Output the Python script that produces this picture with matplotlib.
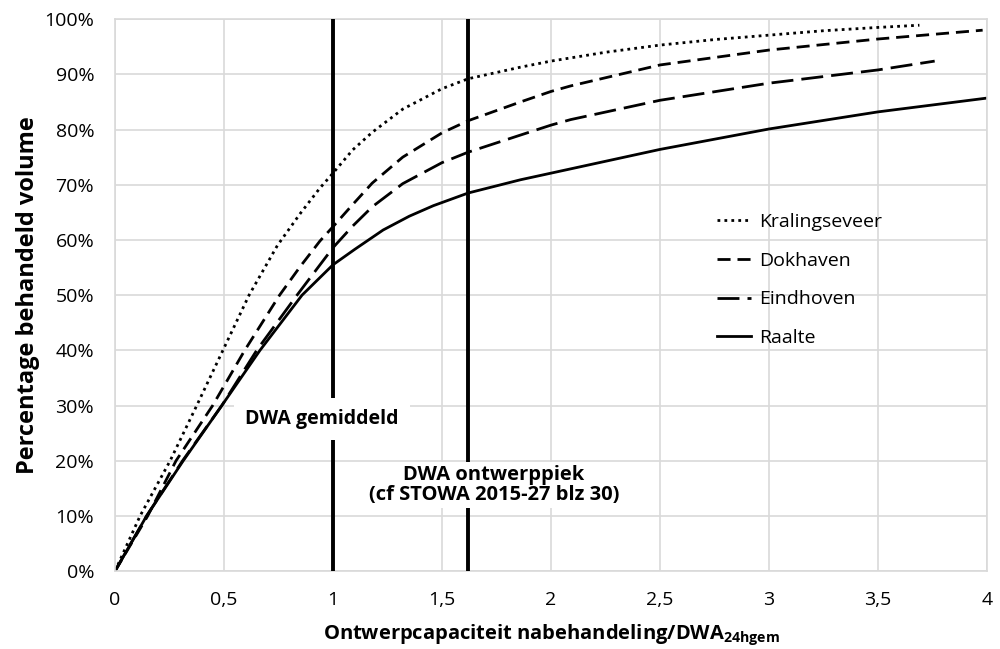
import numpy as np
import matplotlib
matplotlib.use("Agg")
from matplotlib import pyplot as plt
from matplotlib.ticker import FuncFormatter, MultipleLocator

# font setup
plt.rcParams['font.family'] = ['Open Sans', 'DejaVu Sans']
plt.rcParams['mathtext.fontset'] = 'custom'
plt.rcParams['mathtext.rm'] = 'Open Sans'
plt.rcParams['mathtext.bf'] = 'Open Sans:bold'

# data (x = capacity / DWA, y = % treated)
kral_x = [0, 0.115, 0.253, 0.375, 0.495, 0.615, 0.745, 0.85, 0.94, 1.0, 1.09, 1.18, 1.32,
          1.5, 1.62, 1.86, 2.0, 2.25, 2.5, 2.75, 3.0, 3.25, 3.5, 3.69]
kral_y = [0, 10, 20, 30, 40, 50, 59, 64.8, 69.4, 72.1, 76.3, 79.5, 83.7,
          87.4, 89.2, 91.3, 92.4, 94.0, 95.3, 96.3, 97.1, 97.9, 98.5, 98.9]

dok_x = [0, 0.15, 0.28, 0.448, 0.595, 0.755, 0.85, 0.94, 1.0, 1.09, 1.18, 1.32,
         1.5, 1.62, 1.86, 2.0, 2.09, 2.5, 3.0, 3.5, 3.98]
dok_y = [0, 10, 20, 30, 40, 50, 55.2, 59.8, 62.4, 66.4, 70.3, 75.0,
         79.4, 81.6, 85, 86.9, 87.9, 91.7, 94.4, 96.4, 98.0]

eind_x = [0, 0.145, 0.31, 0.49, 0.65, 0.835, 1.0, 1.09, 1.18, 1.32,
          1.5, 1.62, 1.86, 2.0, 2.09, 2.5, 3.0, 3.5, 3.76]
eind_y = [0, 10, 20, 30, 40, 50, 58.6, 62.5, 66.0, 70.2,
          74.0, 75.9, 79, 80.8, 81.8, 85.3, 88.4, 90.8, 92.4]

raal_x = [0, 0.145, 0.313, 0.49, 0.665, 0.858, 1.0, 1.1, 1.23, 1.35,
          1.46, 1.62, 1.86, 2.0, 2.5, 3.0, 3.5, 4.0]
raal_y = [0, 10, 20, 30, 40, 50, 55.5, 58.3, 61.8, 64.3,
          66.2, 68.5, 70.9, 72.1, 76.4, 80.1, 83.2, 85.7]

dwa_gem = 1.0
dwa_piek = 1.62

fig = plt.figure(figsize=(10, 6.49), dpi=100)
ax = fig.add_axes([0.115, 0.12, 0.872, 0.8505])

lw = 2.0
ax.plot(kral_x, kral_y, color='black', lw=lw, dashes=(1, 1.5), label='Kralingseveer')
ax.plot(dok_x, dok_y, color='black', lw=lw, dashes=(4.7, 2.5), label='Dokhaven')
ax.plot(eind_x, eind_y, color='black', lw=lw, dashes=(7.9, 2.9), label='Eindhoven')
ax.plot(raal_x, raal_y, color='black', lw=lw, label='Raalte')

# vertical marker lines
ax.axvline(dwa_gem, color='black', lw=2.8, zorder=3)
ax.axvline(dwa_piek, color='black', lw=2.8, zorder=3)

ax.text(0.95, 27.5, 'DWA gemiddeld', ha='center', va='center', fontsize=14,
        fontweight='bold', zorder=5,
        bbox=dict(facecolor='white', edgecolor='none', pad=8))
ax.text(1.739, 15.6, 'DWA ontwerppiek\n(cf STOWA 2015-27 blz 30)', ha='center',
        va='center', fontsize=14.5, fontweight='bold', zorder=5, linespacing=1.05,
        bbox=dict(facecolor='white', edgecolor='none', pad=2))

ax.set_xlim(0, 4)
ax.set_ylim(0, 100)
ax.xaxis.set_major_locator(MultipleLocator(0.5))
ax.yaxis.set_major_locator(MultipleLocator(10))
ax.xaxis.set_major_formatter(FuncFormatter(lambda v, p: ('%g' % v).replace('.', ',')))
ax.yaxis.set_major_formatter(FuncFormatter(lambda v, p: '%d%%' % round(v)))
ax.tick_params(length=0, labelsize=14)
ax.tick_params(axis='y', pad=15)
ax.tick_params(axis='x', pad=14)

ax.grid(True, color='#d9d9d9', lw=1.2)
ax.set_axisbelow(True)
for s in ax.spines.values():
    s.set_color('#d9d9d9')
    s.set_linewidth(1.2)

ax.set_ylabel('Percentage behandeld volume', fontsize=17, fontweight='bold', labelpad=3)
ax.set_xlabel(r'Ontwerpcapaciteit nabehandeling/DWA$_{\mathbf{24hgem}}$',
              fontsize=14.5, fontweight='bold', labelpad=10)

leg = ax.legend(loc='upper left', bbox_to_anchor=(0.6705, 0.68), frameon=False,
                fontsize=14, handlelength=1.75, handletextpad=0.4, labelspacing=1.06)

fig.savefig('out.png', dpi=100)
